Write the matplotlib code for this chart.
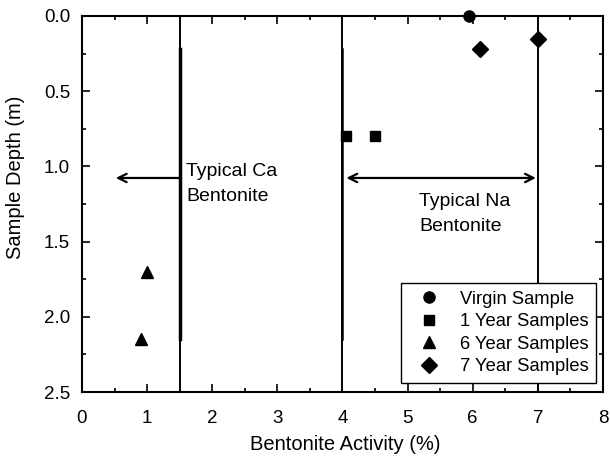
import matplotlib
matplotlib.use('Agg')
from matplotlib import pyplot as plt
from matplotlib.ticker import MultipleLocator, FormatStrFormatter

plt.rcParams['font.family'] = ['Liberation Sans', 'DejaVu Sans']

# data
virgin_x = [5.94]
virgin_y = [0.0]
year1_x = [4.05, 4.5]
year1_y = [0.8, 0.8]
year6_x = [1.0, 0.91]
year6_y = [1.7, 2.15]
year7_x = [6.11, 7.0]
year7_y = [0.22, 0.15]

bounds = [1.5, 4.0, 7.0]          # vertical reference lines
thick_x = [1.5, 4.0]              # bold segments
thick_w = [2.5, 1.8]
thick_top, thick_bot = 0.22, 2.15
arrow_y = 1.077

fig = plt.figure(figsize=(6.1, 4.62), dpi=100)
ax = fig.add_axes([0.1344, 0.1515, 0.854, 0.8139])

for b in bounds:
    ax.axvline(b, color='black', lw=1.4, zorder=1)
for b, w in zip(thick_x, thick_w):
    ax.plot([b, b], [thick_top, thick_bot], color='black', lw=w, zorder=1)

ax.plot(virgin_x, virgin_y, 'o', color='black', ms=8, clip_on=False, label='Virgin Sample', zorder=3)
ax.plot(year1_x, year1_y, 's', color='black', ms=7.5, label='1 Year Samples', zorder=3)
ax.plot(year6_x, year6_y, '^', color='black', ms=9, label='6 Year Samples', zorder=3)
ax.plot(year7_x, year7_y, 'D', color='black', ms=8, label='7 Year Samples', zorder=3)

ax.annotate('', xy=(0.52, arrow_y), xytext=(1.5, arrow_y),
            arrowprops=dict(arrowstyle='->,head_length=0.6,head_width=0.3', lw=1.6, color='black',
                            shrinkA=0, shrinkB=0))
ax.annotate('', xy=(4.06, arrow_y), xytext=(6.97, arrow_y),
            arrowprops=dict(arrowstyle='<->,head_length=0.6,head_width=0.3', lw=1.6, color='black',
                            shrinkA=0, shrinkB=0))

ax.text(1.6, 0.975, 'Typical Ca\nBentonite', fontsize=14, va='top', ha='left', linespacing=1.62)
ax.text(5.18, 1.175, 'Typical Na\nBentonite', fontsize=14, va='top', ha='left', linespacing=1.62)

ax.set_xlim(0, 8)
ax.set_ylim(2.5, 0)
ax.xaxis.set_major_locator(MultipleLocator(1))
ax.xaxis.set_minor_locator(MultipleLocator(0.5))
ax.yaxis.set_major_locator(MultipleLocator(0.5))
ax.yaxis.set_minor_locator(MultipleLocator(0.25))
ax.yaxis.set_major_formatter(FormatStrFormatter('%.1f'))
ax.tick_params(which='both', direction='in', top=True, right=True, labelsize=13.5, width=1.2)
ax.tick_params(which='major', length=6)
ax.tick_params(which='minor', length=3)
ax.tick_params(axis='x', which='major', pad=13)
ax.tick_params(axis='y', which='major', pad=8.5)
for s in ax.spines.values():
    s.set_linewidth(1.5)

ax.set_xlabel('Bentonite Activity (%)', fontsize=14.5)
ax.set_ylabel('Sample Depth (m)', fontsize=14.5)
ax.xaxis.set_label_coords(0.505, -0.115)
ax.yaxis.set_label_coords(-0.109, 0.57)

leg = ax.legend(loc='lower right', fontsize=13.2, frameon=True, fancybox=False, edgecolor='black',
                framealpha=1, handlelength=2.3, handletextpad=0.5, borderpad=0.42,
                labelspacing=0.3, borderaxespad=0, bbox_to_anchor=(0.987, 0.024))
leg.get_frame().set_linewidth(1.0)

fig.savefig('out.png', dpi=100)
